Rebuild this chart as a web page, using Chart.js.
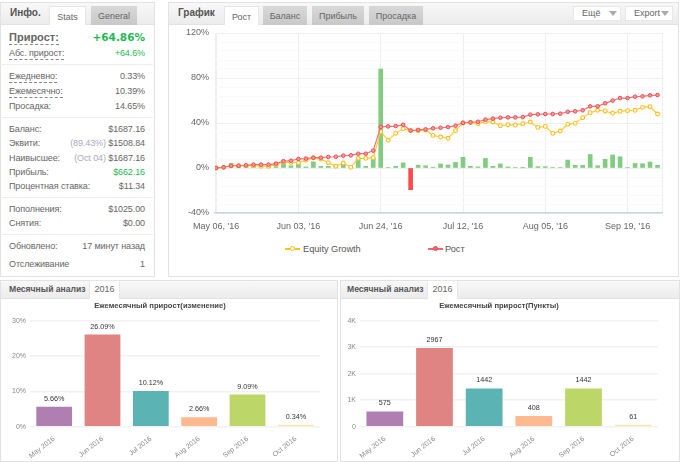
<!DOCTYPE html>
<html>
<head>
<meta charset="utf-8">
<script src="https://cdn.jsdelivr.net/npm/chart.js@4"></script>
<style>
html, body { margin: 0; padding: 0; background: #fff; width: 680px; height: 462px; overflow: hidden; }
body { position: relative; font-family: "Liberation Sans", Arial, sans-serif; color: #666; }
.panel { position: absolute; background: #fff; border: 1px solid #e2e2e2; box-sizing: border-box; }
.head { position: absolute; left: 0; right: 0; top: 0; background: linear-gradient(#f8f8f8, #ececec); border-bottom: 1px solid #e2e2e2; }
.caption { position: absolute; font-weight: bold; color: #555; white-space: nowrap; }
.tab { position: absolute; top: 3px; bottom: -1px; text-align: center; box-sizing: border-box; font-size: 9px; line-height: 20px;
       background: linear-gradient(#d8d8d8, #c8c8c8); color: #666; }
.tab.on { background: #fff; border: 1px solid #e6e6e6; border-bottom: 0; color: #666; }
.btn { position: absolute; top: 3px; height: 15px; background: #fff; border: 1px solid #e8e8e8; box-sizing: border-box; font-size: 9px; line-height: 13px; padding-left: 8px; color: #666; }
.btn i { position: absolute; right: 3px; top: 4px; border: 4px solid transparent; border-top: 5px solid #aaa; border-bottom: 0; }
.row { position: absolute; left: 9px; width: 136px; font-size: 9px; letter-spacing: -0.1px; line-height: 12px; height: 12px; white-space: nowrap; }
.row b { font-weight: normal; position: absolute; right: 0; top: 0; }
.row span.u { border-bottom: 1px dashed #888; padding-bottom: 1px; }
.row em { font-style: normal; color: #aab; }
.green { color: #1db954 !important; }
.sep { position: absolute; left: 0; width: 153px; height: 1px; background: #eee; }
canvas { position: absolute; }
#legend { position: absolute; left: 285px; top: 243px; height: 12px; font-size: 9.2px; color: #555; }
#legend span { position: absolute; top: 0; white-space: nowrap; line-height: 12px; }
#legend i { position: absolute; top: 5px; width: 15px; height: 1.5px; }
#legend u { position: absolute; top: 3px; width: 5px; height: 5px; border-radius: 50%; background: #fff; box-sizing: border-box; border: 1.5px solid; }
</style>
</head>
<body>

<div class="panel" style="left:0;top:2px;width:155px;height:275px">
  <div class="head" style="height:21px">
    <div class="caption" style="left:9px;top:4px;font-size:10px">Инфо.</div>
    <div class="tab on" style="left:48px;width:37px">Stats</div>
    <div class="tab" style="left:90px;width:46px">General</div>
  </div>
</div>
<div id="info"></div>

<div class="panel" style="left:168px;top:2px;width:511px;height:275px">
  <div class="head" style="height:21px">
    <div class="caption" style="left:9px;top:4px;font-size:10px">График</div>
    <div class="tab on" style="left:55px;width:35px">Рост</div>
    <div class="tab" style="left:94px;width:44px">Баланс</div>
    <div class="tab" style="left:143px;width:52px">Прибыль</div>
    <div class="tab" style="left:200px;width:54px">Просадка</div>
    <div class="btn" style="left:404px;width:48px">Ещё<i></i></div>
    <div class="btn" style="left:456px;width:48px">Export<i></i></div>
  </div>
</div>
<canvas id="chart-growth" style="left:170px;top:25px;width:505px;height:212px"></canvas>
<div id="legend"></div>

<div class="panel" style="left:0;top:280px;width:338px;height:182px">
  <div class="head" style="height:17px">
    <div class="caption" style="left:8px;top:3px;font-size:8.6px">Месячный анализ</div>
    <div class="tab on" style="left:88px;width:31px;top:-1px;line-height:17px">2016</div>
  </div>
</div>
<canvas id="chart-monthly-pct" style="left:0;top:298px;width:326px;height:164px"></canvas>

<div class="panel" style="left:340px;top:280px;width:340px;height:182px">
  <div class="head" style="height:17px">
    <div class="caption" style="left:6px;top:3px;font-size:8.6px">Месячный анализ</div>
    <div class="tab on" style="left:86px;width:31px;top:-1px;line-height:17px">2016</div>
  </div>
</div>
<canvas id="chart-monthly-pts" style="left:340px;top:298px;width:324px;height:164px"></canvas>

<script>
// main chart
const tickIndexes = [0, 11, 22, 33, 44, 55];
const tickLabels = ["May 06, '16", "Jun 03, '16", "Jun 24, '16", "Jul 12, '16", "Aug 05, '16", "Sep 19, '16"];
const seriesNames = ['Equity Growth', 'Рост'];
const equityGrowth = [0, 0.6, 2, 2, 2, 2, 1.5, 1.5, 3, 5.3, 5, 4.7, 6.8, 8.9, 8, 4.7, 1.5, 4.4, 0.6, 8.6,
    8.6, 9.2, 32.3, 24.6, 30.8, 35, 33.2, 33.2, 33.8, 29, 27.5, 26.4, 33.2, 40, 40.6, 39.4, 41.2, 40.9, 37.6, 38.5,
    38.2, 39.4, 40.9, 36.1, 37, 30.8, 32.9, 38.8, 39.7, 44.7, 49.2, 51.3, 50.7, 48.6, 50.4, 51, 51.3, 53.9, 54.5, 48];
const growth = [0, 0.6, 2, 2, 2.4, 3, 3, 3, 3.9, 6, 6.5, 8, 8.3, 9.2, 9.2, 9.8, 10, 11, 11.3, 12.7,
    12.7, 15.4, 36.5, 37, 37.3, 38.4, 33.3, 33.9, 34.3, 35.3, 35.8, 36.4, 37.6, 40.2, 40.5, 41.1, 43, 43.9, 44.7, 45,
    45, 45.3, 47.4, 47.7, 48, 48, 48.3, 50, 50.4, 51.3, 54.8, 54.8, 57.5, 59.9, 62.2, 62.2, 63.4, 63.7, 64.6, 64.86];
const dailyChange = [0, 0.4, 4, 2, 2, 3, 2, 1.5, 3.5, 6, 2, 5, 1, 5.5, 1.5, 1.5, 1, 4, 1, 8,
    1.5, 9, 88, 0.5, 1.5, 4.5, -19.3, 2.5, 2, 0.6, 3.6, 2.7, 5, 9.5, 1.5, 1, 8.5, 1.5, 3.6, 1,
    0.4, 0.2, 9.5, 1.2, 1.2, 0.4, 0.4, 7, 2.4, 2.4, 12, 2, 7.7, 11.6, 10, 0.5, 4, 3.8, 5.3, 2.4];
const growthTicks = [-40, 0, 40, 80, 120];

// monthly charts
const months = ['May 2016', 'Jun 2016', 'Jul 2016', 'Aug 2016', 'Sep 2016', 'Oct 2016'];
const monthlyPct = [5.66, 26.09, 10.12, 2.66, 9.09, 0.34];
const monthlyPts = [575, 2967, 1442, 408, 1442, 61];
const monthColors = ['#b07fb2', '#e08383', '#5bb3b3', '#ffb98f', '#bcd668', '#fbe7a3'];

// left info column: label, value, top, flags
const infoRows = [
    ['Абс. прирост:', '+64.6%', 47, 'ug'],
    ['Ежедневно:', '0.33%', 70, 'u'],
    ['Ежемесячно:', '10.39%', 85, 'u'],
    ['Просадка:', '14.65%', 100, ''],
    ['Баланс:', '$1687.16', 123, ''],
    ['Эквити:', '<em>(89.43%)</em> $1508.84', 137, ''],
    ['Наивысшее:', '<em>(Oct 04)</em> $1687.16', 152, ''],
    ['Прибыль:', '$662.16', 166, 'g'],
    ['Процентная ставка:', '$11.34', 180, ''],
    ['Пополнения:', '$1025.00', 203, ''],
    ['Снятия:', '$0.00', 217, ''],
    ['Обновлено:', '17 минут назад', 240, ''],
    ['Отслеживание', '1', 258, '']
];
const infoSeps = [64, 117, 197, 234];

const info = document.getElementById('info');
info.innerHTML = `<div class="row" style="top:29px;height:16px;font-size:11px;letter-spacing:0;line-height:16px;font-weight:bold;color:#666">
    <span class="u">Прирост:</span><b class="green" style="font-weight:bold;font-family:'DejaVu Sans';font-size:10.5px">+64.86%</b></div>`;
infoRows.forEach(r => {
    const label = r[3].includes('u') ? `<span class="u">${r[0]}</span>` : r[0];
    const cls = r[3].includes('g') ? ' class="green"' : '';
    info.innerHTML += `<div class="row" style="top:${r[2]}px">${label}<b${cls}>${r[1]}</b></div>`;
});
infoSeps.forEach(y => { info.innerHTML += `<div class="sep" style="top:${y}px"></div>`; });

// legend
const legend = document.getElementById('legend');
legend.innerHTML = `
    <i style="left:0;background:#ffc21f"></i><u style="left:5px;border-color:#ffc21f"></u><span style="left:18px">${seriesNames[0]}</span>
    <i style="left:143px;background:#f4646a"></i><u style="left:148px;border-color:#f0484e;background:#f4646a"></u><span style="left:160px">${seriesNames[1]}</span>`;

// pin an axis box so the plot area lands where the reference has it
function fixHeight(px) {
    return s => { s.height = px; s.paddingLeft = 0; s.paddingRight = 0; };
}
function fixWidth(px) {
    return s => { s.width = px; s.paddingTop = 0; s.paddingBottom = 0; };
}

new Chart(document.getElementById('chart-growth'), {
    type: 'bar',
    data: {
        datasets: [
            {
                type: 'line', label: seriesNames[1], order: 1,
                data: growth.map((v, i) => ({ x: i, y: v })),
                borderColor: '#f4707a', borderWidth: 1.2,
                pointBackgroundColor: '#fb9a9a', pointBorderColor: '#f2484e', pointBorderWidth: 1, pointRadius: 1.8, tension: 0
            },
            {
                type: 'line', label: seriesNames[0], order: 2,
                data: equityGrowth.map((v, i) => ({ x: i, y: v })),
                borderColor: '#ffc72e', borderWidth: 1.1,
                pointBackgroundColor: '#fff', pointBorderColor: '#ffbe14', pointBorderWidth: 1.1, pointRadius: 1.9, tension: 0
            },
            {
                type: 'bar', label: 'change', order: 3,
                data: dailyChange.map((v, i) => ({ x: i, y: v })),
                backgroundColor: dailyChange.map(v => (v < 0 ? '#fb4a4a' : '#82cc82')),
                barThickness: 4
            }
        ]
    },
    options: {
        responsive: false,
        animation: false,
        layout: { padding: { left: 0, right: 13, top: 8, bottom: 0 } },
        plugins: { legend: { display: false }, tooltip: { enabled: false } },
        scales: {
            x: {
                type: 'linear', min: -0.15, max: 59.6, offset: false,
                afterBuildTicks: s => { s.ticks = [-0.15, ...tickIndexes, 59.6].map(v => ({ value: v })); },
                afterFit: fixHeight(24),
                border: { color: '#c9d6e6', width: 1.5 },
                grid: { color: '#eceef0', offset: false, drawTicks: false },
                ticks: {
                    autoSkip: false, maxRotation: 0, padding: 8, color: '#666',
                    font: { family: 'Liberation Sans', size: 9 },
                    callback: v => {
                        const i = tickIndexes.indexOf(v);
                        return i < 0 ? '' : tickLabels[i];
                    }
                }
            },
            y: {
                min: -40, max: 120,
                afterFit: fixWidth(45),
                border: { display: false },
                grid: { color: c => (growthTicks.includes(c.tick.value) ? '#efefef' : '#f9f9f9'), drawTicks: false },
                ticks: {
                    stepSize: 8, autoSkip: false, padding: 6, color: '#666',
                    font: { family: 'Liberation Sans', size: 9 },
                    callback: v => (growthTicks.includes(v) ? v + '%' : '')
                }
            }
        }
    }
});

// value labels above the monthly bars
const barLabels = {
    id: 'barLabels',
    afterDatasetsDraw(chart, args, opts) {
        const ctx = chart.ctx;
        ctx.save();
        ctx.font = '7.2px "Liberation Sans"';
        ctx.fillStyle = '#333';
        ctx.textAlign = 'center';
        ctx.textBaseline = 'middle';
        chart.getDatasetMeta(0).data.forEach((bar, i) => {
            ctx.fillText(chart.data.datasets[0].data[i] + opts.suffix, bar.x, bar.y - 8);
        });
        ctx.restore();
    }
};

function monthlyChart(id, title, values, max, step, suffix, tickFmt, leftWidth) {
    new Chart(document.getElementById(id), {
        type: 'bar',
        data: {
            labels: months,
            datasets: [{ data: values, backgroundColor: monthColors, categoryPercentage: 0.74, barPercentage: 1, minBarLength: 2 }]
        },
        plugins: [barLabels],
        options: {
            responsive: false,
            animation: false,
            layout: { padding: { left: 0, right: 6, top: 0, bottom: 0 } },
            plugins: {
                legend: { display: false },
                tooltip: { enabled: false },
                title: {
                    display: true, text: title, color: '#444',
                    font: { family: 'Liberation Sans', size: 7.6, weight: 'bold' },
                    padding: { top: 3, bottom: 10.6 }
                },
                barLabels: { suffix: suffix }
            },
            scales: {
                x: {
                    afterFit: fixHeight(35.3),
                    border: { display: false },
                    grid: { display: false },
                    ticks: {
                        minRotation: 38, maxRotation: 38, padding: 0, color: '#888',
                        font: { family: 'Liberation Sans', size: 7 }
                    }
                },
                y: {
                    min: 0, max: max,
                    afterFit: fixWidth(leftWidth),
                    border: { display: false },
                    grid: { color: '#f2f2f2', lineWidth: 1.5, drawTicks: false },
                    ticks: {
                        stepSize: step, padding: 4, color: '#888',
                        font: { family: 'Liberation Sans', size: 7 },
                        callback: tickFmt
                    }
                }
            }
        }
    });
}

monthlyChart('chart-monthly-pct', 'Ежемесячный прирост(изменение)', monthlyPct, 30, 10, '%', v => v + '%', 30);
monthlyChart('chart-monthly-pts', 'Ежемесячный прирост(Пункты)', monthlyPts, 4000, 1000, '', v => (v ? v / 1000 + 'K' : '0'), 20);
</script>
</body>
</html>
